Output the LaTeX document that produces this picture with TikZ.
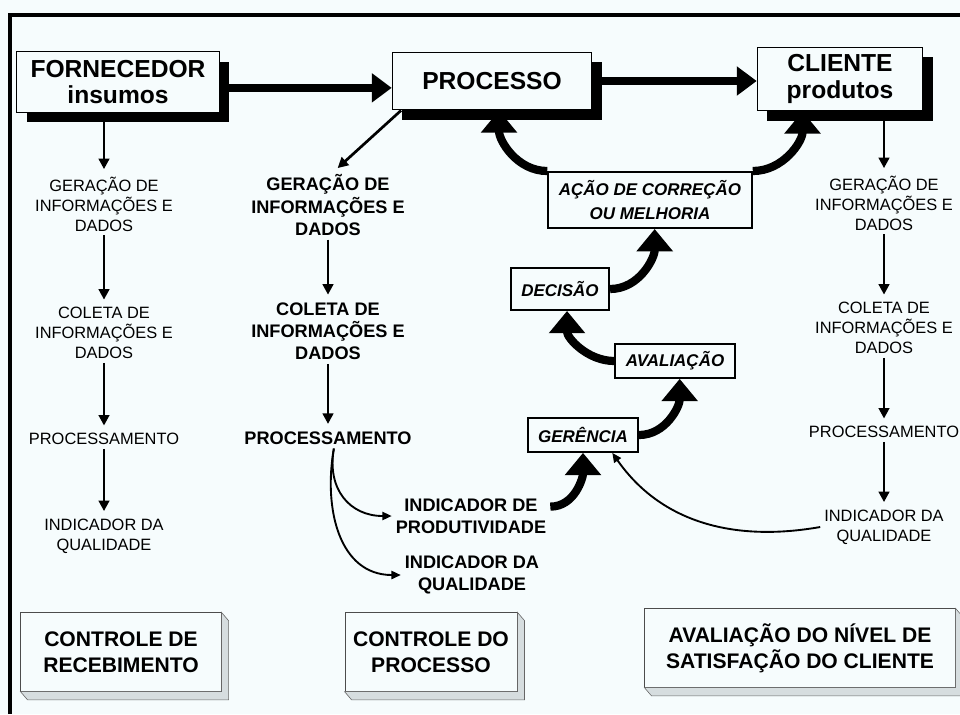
\documentclass[tikz,border=0pt]{standalone}
\usepackage{fontspec}
\setmainfont{Liberation Sans}
\usepackage{tikz}
\usetikzlibrary{arrows.meta,positioning,shapes,shadows,calc}
\pgfdeclarelayer{bg}
\pgfsetlayers{bg,main}
\definecolor{bgcol}{RGB}{246,252,253}
\definecolor{slabcol}{RGB}{214,221,223}

\begin{document}
\begin{tikzpicture}[x = 0.03cm, y = -0.03cm,
  mainbox/.style = {draw, line width=1.2pt, fill=bgcol, align=center,
    font=\bfseries\fontsize{21}{23}\selectfont,
    drop shadow={shadow xshift=8.5pt, shadow yshift=-8.5pt, opacity=1, fill=black}},
  side/.style = {align=center, font=\fontsize{14}{17}\selectfont},
  mid/.style = {align=center, font=\bfseries\fontsize{15.5}{19}\selectfont},
  ibox/.style = {draw, line width=1.5pt, fill=bgcol, align=center,
    font=\bfseries\itshape\fontsize{14.5}{20.5}\selectfont},
  slab/.style = {draw=black!70, line width=0.6pt, fill=bgcol, align=center,
    minimum height=67pt, font=\bfseries\fontsize{18}{22}\selectfont},
  arr/.style = {-{Triangle[length=9pt, width=9pt]}, line width=2.3pt, shorten >=3pt},
  thinarr/.style = {-{Triangle[length=8pt, width=7pt]}, line width=1.6pt},
  thickarr/.style = {-{Triangle[length=17pt, width=24pt]}, line width=7pt},
  fatarr/.style = {-{Triangle[length=19pt, width=30pt]}, line width=7pt}]

\begin{pgfonlayer}{bg}
\fill[bgcol] (0,0) rectangle (960,714);
\end{pgfonlayer}
\useasboundingbox (0,0) rectangle (960,714);
\draw[line width=2.6pt] (10,714) -- (10,15) -- (960,15);

\node[mainbox, minimum width=173pt, minimum height=52pt] (forn) at (118, 82) {FORNECEDOR\\insumos};
\node[mainbox, minimum width=170pt, minimum height=49pt] (proc) at (492, 81) {PROCESSO};
\node[mainbox, minimum width=141pt, minimum height=54pt] (cli) at (840, 79) {CLIENTE\\produtos};

\node[side] (gl) at (104, 204) {GERAÇÃO DE\\INFORMAÇÕES E\\DADOS};
\node[side] (cl) at (104, 333) {COLETA DE\\INFORMAÇÕES E\\DADOS};
\node[side] (pl) at (104, 439) {PROCESSAMENTO};
\node[side] (il) at (104, 536) {INDICADOR DA\\QUALIDADE};

\node[mid] (gm) at (328, 205) {GERAÇÃO DE\\INFORMAÇÕES E\\DADOS};
\node[mid] (cm) at (328, 331) {COLETA DE\\INFORMAÇÕES E\\DADOS};
\node[mid] (pm) at (328, 438) {PROCESSAMENTO};
\node[mid] (ipd) at (471, 516) {INDICADOR DE\\PRODUTIVIDADE};
\node[mid] (iqm) at (472, 575) {INDICADOR DA\\QUALIDADE};

\node[side] (gr) at (884, 203) {GERAÇÃO DE\\INFORMAÇÕES E\\DADOS};
\node[side] (cr) at (884, 328) {COLETA DE\\INFORMAÇÕES E\\DADOS};
\node[side] (pr) at (884, 432) {PROCESSAMENTO};
\node[side] (ir) at (884, 527) {INDICADOR DA\\QUALIDADE};

\node[ibox, minimum width=174pt, minimum height=48pt] (acao) at (650, 200) {AÇÃO DE CORREÇÃO\\OU MELHORIA};
\node[ibox, minimum width=84pt, minimum height=36pt] (dec) at (560, 289) {DECISÃO};
\node[ibox, minimum width=102pt, minimum height=29pt] (ava) at (675, 361) {AVALIAÇÃO};
\node[ibox, minimum width=94pt, minimum height=29pt] (ger) at (583, 435) {GERÊNCIA};

\node[slab, minimum width=171pt] (b1) at (121, 652) {CONTROLE DE\\RECEBIMENTO};
\node[slab, minimum width=147pt] (b2) at (431, 652) {CONTROLE DO\\PROCESSO};
\node[slab, minimum width=265pt] (b3) at (800, 648) {AVALIAÇÃO DO NÍVEL DE\\SATISFAÇÃO DO CLIENTE};

\foreach \b in {b1,b2,b3}
  \draw[draw=black!60, line width=0.5pt, fill=slabcol] (\b.north east) -- ++(6pt,-7pt)
    -- ([shift={(6pt,-7pt)}]\b.south east) -- ([shift={(6pt,-7pt)}]\b.south west)
    -- (\b.south west) -- (\b.south east) -- cycle;

\coordinate (f1) at ([yshift=-5pt]forn.east);
\draw[thickarr] (f1) -- (f1 -| proc.west);
\draw[thickarr] (proc.east) -- (proc.east -| cli.west);

\draw[arr] (forn.south -| gl.north) -- (gl);
\draw[arr] (gl) -- (cl);
\draw[arr] (cl) -- (pl);
\draw[arr] (pl) -- (il);

\draw[arr] ([xshift=8pt]proc.south west) -- ([xshift=6pt]gm.north);
\draw[arr] (gm) -- (cm);
\draw[arr] (cm) -- (pm);
\draw[thinarr] ([xshift=5pt]pm.south) to[out=-100, in=180, looseness=1.2] (ipd.west);
\draw[thinarr] ([xshift=5pt]pm.south) to[out=-100, in=180, looseness=1.1] (iqm.west);

\draw[arr] (cli.south -| gr.north) -- (gr);
\draw[arr] (gr) -- (cr);
\draw[arr] (cr) -- (pr);
\draw[arr] (pr) -- (ir);

\draw[fatarr] (acao.north west) to[out=180, in=-90] ([xshift=6pt]proc.south);
\draw[fatarr] (acao.north east) to[out=0, in=-90] ([xshift=-32pt]cli.south);
\draw[fatarr] (dec.east) to[out=0, in=-90] ([xshift=4pt]acao.south);
\draw[fatarr] (ava.west) to[out=180, in=-90] ([xshift=6pt]dec.south);
\draw[fatarr] (ger.east) to[out=0, in=-90] ([xshift=4pt]ava.south);
\draw[fatarr] ([yshift=8pt]ipd.east) to[out=0, in=-90] (ger.south);
\draw[thinarr] (ir.west) to[out=190, in=-55] ([xshift=25pt]ger.south);

\end{tikzpicture}
\end{document}
